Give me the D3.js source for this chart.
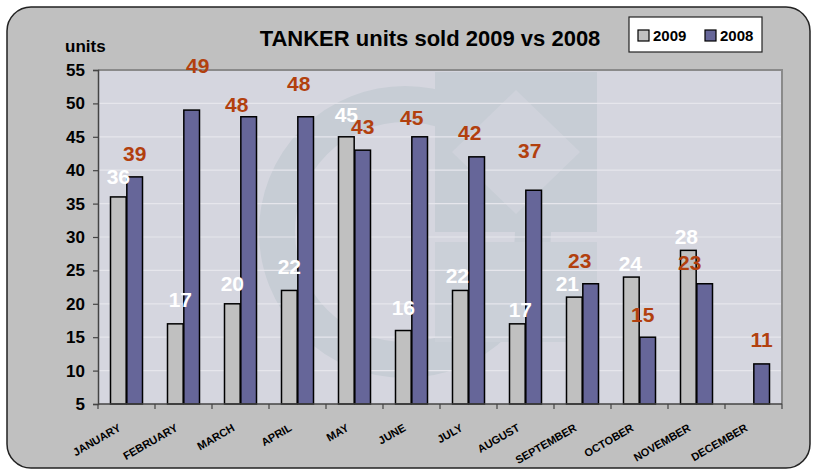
<!DOCTYPE html>
<html lang="en">
<head>
<meta charset="UTF-8">
<title>TANKER units sold 2009 vs 2008</title>
<script src="https://d3js.org/d3.v7.min.js"></script>
<style>
    * { margin: 0; padding: 0; }
    body { background: #fff; }
    svg { display: block; font-family: "Liberation Sans", Arial, sans-serif; }
</style>
</head>
<body>
<script>
    // data
    var months = ["JANUARY", "FEBRUARY", "MARCH", "APRIL", "MAY", "JUNE",
                  "JULY", "AUGUST", "SEPTEMBER", "OCTOBER", "NOVEMBER", "DECEMBER"];
    var series = ["2009", "2008"];
    var units2009 = [36, 17, 20, 22, 45, 16, 22, 17, 21, 24, 28, null];
    var units2008 = [39, 49, 48, 48, 43, 45, 42, 37, 23, 15, 23, 11];
    var yTicks = [5, 10, 15, 20, 25, 30, 35, 40, 45, 50, 55];

    // hand placed labels in the original: [dx, lift above bar top] in px
    var labelPos2009 = [[0,13],[5,17],[0,13],[0,16],[0,15],[0,16],[-3,7],[3,7],[-7,6],[-1,6],[-2,6],[0,0]];
    var labelPos2008 = [[0,16],[6,37],[-12,5],[-7,26],[0,16],[-8,12],[-7,17],[-4,32],[-11,16],[-5,15],[-15,14],[0,17]];

    var W = 813, H = 470;
    var pLeft = 98, pRight = 782, pTop = 70, pBottom = 404;

    var svg = d3.select("body").append("svg")
        .attr("width", W)
        .attr("height", H)

    // chart area
    svg.append("rect")
        .attr("x", 7).attr("y", 7)
        .attr("width", 803).attr("height", 461)
        .attr("rx", 24).attr("ry", 24)
        .attr("fill", "#c0c0c0")
        .attr("stroke", "#222").attr("stroke-width", 1.5)

    var x = d3.scaleBand().domain(months).range([pLeft, pRight]).padding(0)
    var xs = d3.scaleBand().domain(series).range([12.5, 44.5]).paddingInner(0.04)
    var y = d3.scaleLinear().domain([5, 55]).range([pBottom, pTop])

    // plot area
    svg.append("rect")
        .attr("x", pLeft).attr("y", pTop)
        .attr("width", pRight - pLeft).attr("height", pBottom - pTop)
        .attr("fill", "#d5d6df")

    // faint logo watermark
    var wm = svg.append("g")
    wm.append("circle")
        .attr("cx", 405).attr("cy", 232).attr("r", 128)
        .attr("fill", "none").attr("stroke", "#c7cdd5").attr("stroke-width", 36)
    wm.append("rect")
        .attr("x", 435).attr("y", 72).attr("width", 162).attr("height", 160)
        .attr("fill", "#c7cdd5")
    wm.append("path")
        .attr("d", "M516,90 L580,152 L516,214 L452,152 Z")
        .attr("fill", "#cfd2db")
    wm.append("rect")
        .attr("x", 435).attr("y", 242).attr("width", 162).attr("height", 100)
        .attr("fill", "#cbd0d8")

    // gridlines
    svg.append("g")
        .selectAll("line")
        .data(yTicks.filter(function(d) { return d > 5 && d < 55 }))
        .enter().append("line")
        .attr("x1", pLeft).attr("x2", pRight)
        .attr("y1", function(d) { return y(d) })
        .attr("y2", function(d) { return y(d) })
        .attr("stroke", "#e6e6ec").attr("stroke-width", 1.2)

    // plot border top/right
    svg.append("path")
        .attr("d", "M" + pLeft + "," + pTop + "H" + pRight + "V" + pBottom)
        .attr("fill", "none").attr("stroke", "#8a8a8a").attr("stroke-width", 2)

    // bars
    var rows = months.map(function(m, i) {
        return { month: m, i: i, v: { "2009": units2009[i], "2008": units2008[i] } }
    })
    var colors = { "2009": "#c0c0c0", "2008": "#666699" }

    var groups = svg.append("g").selectAll("g")
        .data(rows)
        .enter().append("g")
        .attr("transform", function(d) { return "translate(" + x(d.month) + ",0)" })

    groups.selectAll("rect")
        .data(function(d) {
            return series.filter(function(s) { return d.v[s] != null })
                .map(function(s) { return { s: s, v: d.v[s] } })
        })
        .enter().append("rect")
        .attr("x", function(d) { return xs(d.s) })
        .attr("width", xs.bandwidth())
        .attr("y", function(d) { return y(d.v) })
        .attr("height", function(d) { return pBottom - y(d.v) })
        .attr("fill", function(d) { return colors[d.s] })
        .attr("stroke", "#000").attr("stroke-width", 1.5)

    // axes
    var yAxis = svg.append("g")
        .attr("transform", "translate(" + pLeft + ",0)")
        .call(d3.axisLeft(y).tickValues(yTicks).tickSize(5).tickPadding(8))
    yAxis.select(".domain").attr("stroke", "#444").attr("stroke-width", 1.5)
    yAxis.selectAll(".tick line").attr("stroke", "#444").attr("stroke-width", 1.2)
    yAxis.selectAll("text")
        .attr("font-size", 17).attr("font-weight", "bold").attr("fill", "#000")
        .attr("font-family", "Liberation Sans, Arial, sans-serif")

    var xAxis = svg.append("g")
        .attr("transform", "translate(0," + pBottom + ")")
    xAxis.append("line")
        .attr("x1", pLeft).attr("x2", pRight)
        .attr("stroke", "#444").attr("stroke-width", 1.5)
    xAxis.selectAll(".xt")
        .data(months.concat(["end"]))
        .enter().append("line")
        .attr("class", "xt")
        .attr("x1", function(d, i) { return pLeft + i * x.bandwidth() })
        .attr("x2", function(d, i) { return pLeft + i * x.bandwidth() })
        .attr("y1", 0).attr("y2", 5)
        .attr("stroke", "#444").attr("stroke-width", 1.2)

    // month labels, slanted
    var ml = svg.append("g").selectAll("g")
        .data(months)
        .enter().append("g")
        .attr("transform", function(d) {
            return "translate(" + (x(d) + x.bandwidth() / 2 - 5) + ",430)"
        })
    ml.append("text")
        .style("transform", "rotate(-30deg)")
        .attr("text-anchor", "end")
        .attr("font-size", 11).attr("font-weight", "bold")
        .text(function(d) { return d })

    // data labels
    var labels = svg.append("g").attr("font-weight", "bold").attr("font-size", 21).attr("text-anchor", "middle")
    labels.selectAll(".l09")
        .data(rows.filter(function(d) { return d.v["2009"] != null }))
        .enter().append("text")
        .attr("class", "l09")
        .attr("x", function(d) { return x(d.month) + xs("2009") + xs.bandwidth() / 2 + labelPos2009[d.i][0] })
        .attr("y", function(d) { return y(d.v["2009"]) - labelPos2009[d.i][1] })
        .attr("fill", "#fff")
        .text(function(d) { return d.v["2009"] })
    labels.selectAll(".l08")
        .data(rows)
        .enter().append("text")
        .attr("class", "l08")
        .attr("x", function(d) { return x(d.month) + xs("2008") + xs.bandwidth() / 2 + labelPos2008[d.i][0] })
        .attr("y", function(d) { return y(d.v["2008"]) - labelPos2008[d.i][1] })
        .attr("fill", "#b2400e")
        .text(function(d) { return d.v["2008"] })

    // titles
    svg.append("text")
        .attr("x", 430).attr("y", 46)
        .attr("text-anchor", "middle")
        .attr("font-size", 22).attr("font-weight", "bold")
        .text("TANKER units sold 2009 vs 2008")
    svg.append("text")
        .attr("x", 65).attr("y", 52)
        .attr("font-size", 17).attr("font-weight", "bold")
        .text("units")

    // legend
    var lg = svg.append("g")
    lg.append("rect")
        .attr("x", 629).attr("y", 17).attr("width", 133).attr("height", 35)
        .attr("fill", "#fff").attr("stroke", "#222").attr("stroke-width", 1.2)
    var li = lg.selectAll(".li")
        .data(series)
        .enter().append("g")
        .attr("transform", function(d, i) { return "translate(" + (638 + i * 67) + ",30)" })
    li.append("rect")
        .attr("width", 11).attr("height", 11)
        .attr("fill", function(d) { return colors[d] })
        .attr("stroke", "#000").attr("stroke-width", 1.2)
    li.append("text")
        .attr("x", 15).attr("y", 11)
        .attr("font-size", 15).attr("font-weight", "bold")
        .text(function(d) { return d })
</script>
</body>
</html>
